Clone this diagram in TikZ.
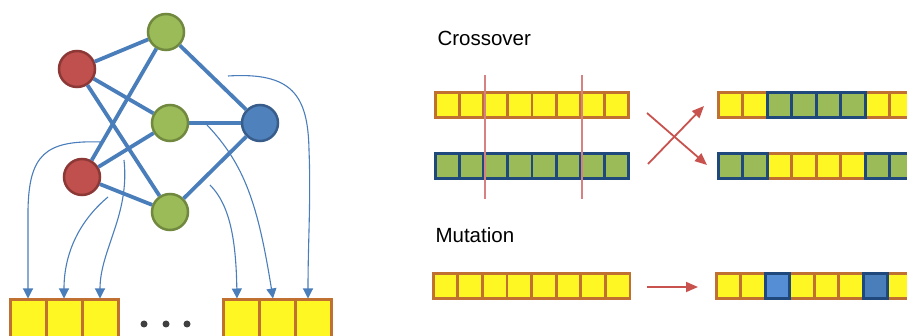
\documentclass[tikz,border=0pt]{standalone}
\usepackage{fontspec}
\setmainfont{Liberation Sans}
\usetikzlibrary{arrows.meta}

\definecolor{geneyellow}{RGB}{255,247,36}
\definecolor{geneorange}{RGB}{192,112,48}
\definecolor{genegreen}{RGB}{155,187,89}
\definecolor{genenavy}{RGB}{31,73,125}
\definecolor{mutlight}{RGB}{85,142,213}
\definecolor{mutdark}{RGB}{74,126,187}
\definecolor{nred}{RGB}{192,80,77}
\definecolor{nredline}{RGB}{140,56,54}
\definecolor{ngreen}{RGB}{155,187,89}
\definecolor{ngreenline}{RGB}{113,137,63}
\definecolor{nblue}{RGB}{79,129,189}
\definecolor{nblueline}{RGB}{56,93,138}
\definecolor{linkblue}{RGB}{74,126,187}
\definecolor{cutred}{RGB}{215,130,130}
\definecolor{opred}{RGB}{200,82,78}

\begin{document}
\begin{tikzpicture}[x=1pt, y=-1pt,
    neuron/.style={circle, minimum size=36pt, inner sep=0pt, line width=2.5pt},
    redn/.style={neuron, fill=nred, draw=nredline},
    greenn/.style={neuron, fill=ngreen, draw=ngreenline},
    bluen/.style={neuron, fill=nblue, draw=nblueline},
    link/.style={draw=linkblue, line width=3.8pt},
    wire/.style={draw=linkblue, line width=1.1pt, -{Triangle[width=10pt,length=10pt]}},
    slot/.style={rectangle, minimum width=36pt, minimum height=40pt, inner sep=0pt,
        fill=geneyellow, draw=geneorange, line width=3pt},
    yel/.style={fill=geneyellow, draw=geneorange, line width=2.8pt},
    grn/.style={fill=genegreen, draw=genenavy, line width=2.8pt},
    op/.style={draw=opred, line width=1.8pt, -{Triangle[width=10pt,length=12pt]}},
    title/.style={anchor=base west, font=\fontsize{20.5}{24}\selectfont}]
    \clip (0,0) rectangle (907,336);
    % network
    \node[redn] (r1) at (77,69) {};
    \node[redn] (r2) at (82,177) {};
    \node[greenn] (g1) at (166,32) {};
    \node[greenn] (g2) at (170,123) {};
    \node[greenn] (g3) at (170,212) {};
    \node[bluen] (o1) at (260,123) {};
    \foreach \a in {r1,r2}
    \foreach \b in {g1,g2,g3}
    \draw[link] (\a) -- (\b);
    \foreach \b in {g1,g2,g3}
    \draw[link] (\b) -- (o1);
    % genome slots
    \foreach \i/\x in {1/28,2/64,3/100}
    \node[slot] (L\i) at (\x,320) {};
    \foreach \i/\x in {1/241,2/277,3/313}
    \node[slot] (R\i) at (\x,320) {};
    \foreach \x in {144,166,187}
    \fill[black!75] (\x,324) circle (3.5);
    % weight -> slot
    \coordinate (wa) at (101,142);
    \coordinate (wb) at (108,197);
    \coordinate (wc) at (124,160);
    \coordinate (wd) at (228,76);
    \coordinate (we) at (207,125);
    \coordinate (wf) at (210,185);
    \draw[wire] (wa) .. controls (45,140) and (29,155) .. (28,210) -- (L1.north);
    \draw[wire] (wb) .. controls (78,222) and (64,255) .. (L2.north);
    \draw[wire] (wc) .. controls (130,215) and (100,250) .. (L3.north);
    \draw[wire] (wd) .. controls (292,72) and (308,95) .. (309,150)
        .. controls (311,200) and (308,240) .. ([xshift=-5pt]R3.north);
    \draw[wire] (we) .. controls (245,165) and (258,205) .. ([xshift=-4pt]R2.north);
    \draw[wire] (wf) .. controls (230,205) and (236,240) .. ([xshift=-4pt]R1.north);
    % crossover
    \node[title] (xo) at (434,46) {Crossover};
    \foreach \i in {0,...,7}
    \filldraw[yel, xshift=\i*24.2pt] (435.2,92.5) rectangle ++(24.2,25);
    \foreach \i in {0,...,7}
    \filldraw[grn, xshift=\i*24.2pt] (435.2,153.5) rectangle ++(24.2,25);
    \draw[cutred, line width=2pt] (484.5,75) -- (484.5,199);
    \draw[cutred, line width=2pt] (581.5,75) -- (581.5,199);
    \coordinate (xa) at (647,113);
    \coordinate (xb) at (707,165);
    \coordinate (xc) at (648,164);
    \coordinate (xd) at (704,106);
    \draw[op] (xa) -- (xb);
    \draw[op] (xc) -- (xd);
    \foreach \i in {0,1,6,7}
    \filldraw[yel, xshift=\i*24.5pt] (718.2,92.5) rectangle ++(24.5,25);
    \foreach \i in {2,...,5}
    \filldraw[grn, xshift=\i*24.5pt] (718.2,92.5) rectangle ++(24.5,25);
    \foreach \i in {2,...,5}
    \filldraw[yel, xshift=\i*24.5pt] (718.2,153.5) rectangle ++(24.5,25);
    \foreach \i in {0,1,6,7}
    \filldraw[grn, xshift=\i*24.5pt] (718.2,153.5) rectangle ++(24.5,25);
    % mutation
    \node[title] (mu) at (432,243) {Mutation};
    \foreach \i in {0,...,7}
    \filldraw[yel, xshift=\i*24.6pt] (433.2,273.5) rectangle ++(24.6,25);
    \coordinate (ma) at (647,287);
    \coordinate (mb) at (698,287);
    \draw[op] (ma) -- (mb);
    \foreach \i in {0,1,3,4,5,7}
    \filldraw[yel, xshift=\i*24.5pt] (716.2,273.5) rectangle ++(24.5,25);
    \filldraw[fill=mutlight, draw=genenavy, line width=2.8pt, xshift=2*24.5pt]
        (716.2,273.5) rectangle ++(24.5,25);
    \filldraw[fill=mutdark, draw=genenavy, line width=2.8pt, xshift=6*24.5pt]
        (716.2,273.5) rectangle ++(24.5,25);
\end{tikzpicture}
\end{document}
